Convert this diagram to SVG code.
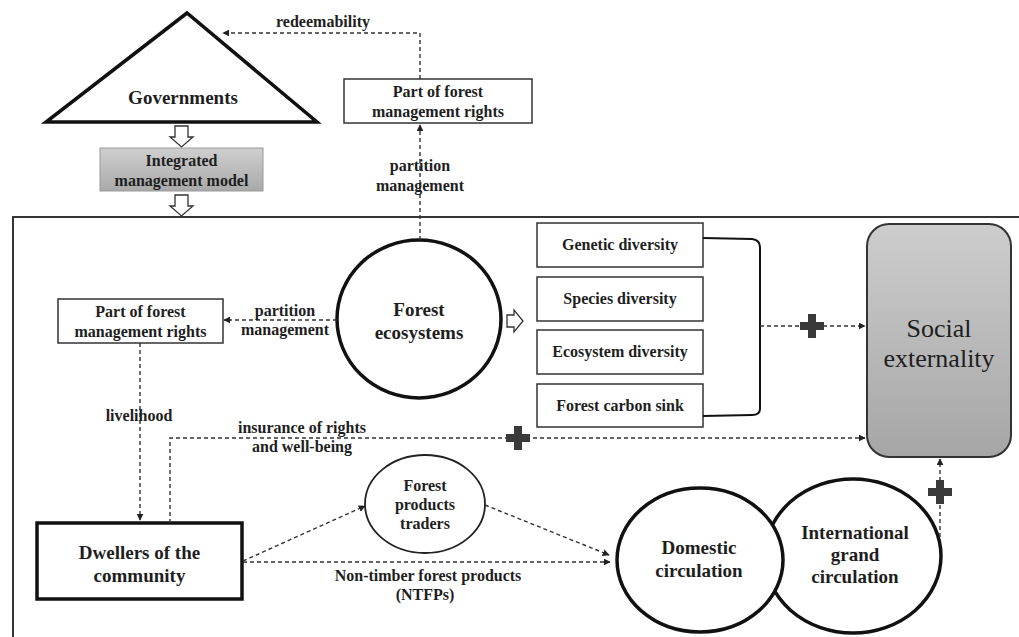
<svg xmlns="http://www.w3.org/2000/svg" width="1019" height="637" viewBox="0 0 1019 637">
<defs>
<linearGradient id="gInt" x1="0" y1="0" x2="0" y2="1"><stop offset="0" stop-color="#cfcfcf"/><stop offset="1" stop-color="#a9a9a9"/></linearGradient>
<linearGradient id="gSoc" x1="0" y1="0" x2="0" y2="1"><stop offset="0" stop-color="#cdcdcd"/><stop offset="1" stop-color="#a6a6a6"/></linearGradient>
<marker id="ah" viewBox="0 0 10 10" refX="9" refY="5" markerWidth="7" markerHeight="7" markerUnits="userSpaceOnUse" orient="auto"><path d="M0,0 L10,5 L0,10 z" fill="#222"/></marker>
<path id="plus" d="M-4,-12 H4 V-4 H12 V4 H4 V12 H-4 V4 H-12 V-4 H-4 z"/>
</defs>
<style>
text{font-family:"Liberation Serif","DejaVu Serif","Times New Roman",Times,serif;fill:#1e1e1e;text-anchor:middle;font-weight:bold}
.s16{font-size:16px}
.s19{font-size:19px}
.box{fill:#fff;stroke:#333;stroke-width:1.5}
.thick{fill:#fff;stroke:#111;stroke-width:3.5}
.dash{fill:none;stroke:#333;stroke-width:1.4;stroke-dasharray:4 3}
.hollow{fill:#fff;stroke:#333;stroke-width:1.3}
.plus{fill:#3a3a3a}
</style>
<rect width="1019" height="637" fill="#fff"/>
<rect x="13" y="217" width="1100" height="500" fill="none" stroke="#222" stroke-width="1.8"/>

<g id="governments">
<polygon points="187,13 46,122 317,122" fill="#fff" stroke="#111" stroke-width="3.5" stroke-linejoin="miter"/>
<text class="s19" x="183" y="104" font-family="Liberation Serif, serif">Governments</text>
</g>
<g id="arrow-gov">
<path class="hollow" d="M175,126 H188 V137 H193 L181.5,147 L170,137 H175 z"/>
</g>
<g id="integrated">
<rect x="100" y="148" width="163" height="43" fill="url(#gInt)" stroke="#999" stroke-width="1"/>
<text class="s16" x="181.5" y="166">Integrated</text>
<text class="s16" x="181.5" y="186">management model</text>
</g>
<g id="arrow-int">
<path class="hollow" d="M175,195 H188 V206 H193 L181.5,216 L170,206 H175 z"/>
</g>
<g id="rights-top">
<rect class="box" x="344" y="79" width="188" height="44"/>
<text class="s16" x="438" y="97">Part of forest</text>
<text class="s16" x="438" y="117">management rights</text>
</g>
<g id="forest-ecosystems">
<ellipse cx="419" cy="319" rx="82" ry="79" fill="#fff" stroke="#111" stroke-width="3.5"/>
<text class="s19" x="419" y="316">Forest</text>
<text class="s19" x="419" y="339">ecosystems</text>
</g>
<g id="arrow-eco">
<path class="hollow" d="M507,315 H514 V310 L523,321 L514,332 V327 H507 z"/>
</g>
<g id="rights-left">
<rect class="box" x="58" y="299" width="165" height="44"/>
<text class="s16" x="140.5" y="317">Part of forest</text>
<text class="s16" x="140.5" y="337">management rights</text>
</g>
<g id="genetic"><rect class="box" x="537" y="223" width="166" height="44"/><text class="s16" x="620" y="250">Genetic diversity</text></g>
<g id="species"><rect class="box" x="537" y="277" width="166" height="44"/><text class="s16" x="620" y="304">Species diversity</text></g>
<g id="ecosystem"><rect class="box" x="537" y="330" width="166" height="44"/><text class="s16" x="620" y="357">Ecosystem diversity</text></g>
<g id="carbon"><rect class="box" x="537" y="384" width="166" height="43" /><text class="s16" x="620" y="411">Forest carbon sink</text></g>
<g id="bracket">
<path d="M703,238 L752,239 Q760,240 760,247 V409 Q760,415 752,415 L703,416" fill="none" stroke="#111" stroke-width="2"/>
</g>
<g id="social">
<rect x="867" y="224" width="144" height="233" rx="22" ry="22" fill="url(#gSoc)" stroke="#333" stroke-width="2"/>
<text x="939" y="337" style="font-size:26px;font-weight:normal">Social</text>
<text x="939" y="367" style="font-size:26px;font-weight:normal">externality</text>
</g>
<g id="dwellers">
<rect class="thick" x="37" y="523" width="205" height="76"/>
<text class="s19" x="139.5" y="559">Dwellers of the</text>
<text class="s19" x="139.5" y="582">community</text>
</g>
<g id="traders">
<ellipse cx="425" cy="504" rx="60" ry="49" fill="#fff" stroke="#222" stroke-width="1.8"/>
<text class="s16" x="425" y="491">Forest</text>
<text class="s16" x="425" y="510">products</text>
<text class="s16" x="425" y="529">traders</text>
</g>
<g id="international">
<ellipse cx="853" cy="556" rx="88" ry="77" fill="#fff" stroke="#111" stroke-width="3.5"/>
<text class="s19" x="855" y="539">International</text>
<text class="s19" x="855" y="561">grand</text>
<text class="s19" x="855" y="583">circulation</text>
</g>
<g id="domestic">
<ellipse cx="700" cy="560" rx="83" ry="72" fill="#fff" stroke="#111" stroke-width="3.5"/>
<text class="s19" x="699" y="554">Domestic</text>
<text class="s19" x="699" y="577">circulation</text>
</g>

<g id="connectors">
<path class="dash" d="M420,79 V33 H223" marker-end="url(#ah)"/>
<text class="s16" x="323" y="27">redeemability</text>
<path class="dash" d="M420,240 V125" marker-end="url(#ah)"/>
<text class="s16" x="420" y="171">partition</text>
<text class="s16" x="420" y="191">management</text>
<path class="dash" d="M337,320 H224" marker-end="url(#ah)"/>
<text class="s16" x="285" y="316">partition</text>
<text class="s16" x="285" y="335">management</text>
<path class="dash" d="M760,326 H865" marker-end="url(#ah)"/>
<use href="#plus" class="plus" x="812" y="326"/>
<path class="dash" d="M140,343 V520" marker-end="url(#ah)"/>
<text class="s16" x="139" y="421">livelihood</text>
<path class="dash" d="M170,523 V438 H865" marker-end="url(#ah)"/>
<use href="#plus" class="plus" x="518" y="438"/>
<text class="s16" x="302" y="433">insurance of rights</text>
<text class="s16" x="302" y="452">and well-being</text>
<path class="dash" d="M243,561 L365,506" marker-end="url(#ah)"/>
<path class="dash" d="M243,562 H610" marker-end="url(#ah)"/>
<text class="s16" x="428" y="581">Non-timber forest products</text>
<text class="s16" x="425" y="600">(NTFPs)</text>
<path class="dash" d="M485,505 L609,555" marker-end="url(#ah)"/>
<path class="dash" d="M940,537 V459" marker-end="url(#ah)"/>
<use href="#plus" class="plus" x="940" y="492"/>
</g>
</svg>
